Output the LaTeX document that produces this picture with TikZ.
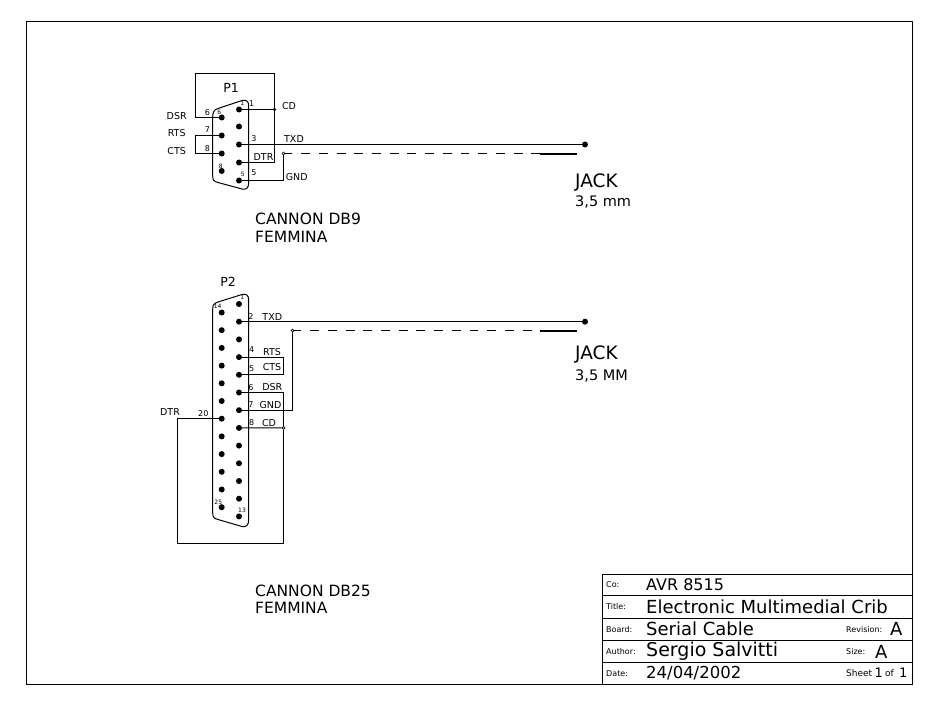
\documentclass[tikz,border=0pt]{standalone}
\usepackage{fontspec}
\setmainfont{DejaVu Sans}
\tikzset{
    wire/.style={line width=1pt},
    shieldwire/.style={line width=1pt, dash pattern=on 8.9pt off 8.8pt},
    ringwire/.style={line width=1.8pt},
    pinhole/.style={circle, fill=black, inner sep=0pt, minimum size=6pt},
    junction/.style={circle, draw, fill=white, line width=0.7pt, inner sep=0pt, minimum size=3pt},
    pinno/.style={inner sep=0pt, font=\fontsize{8}{9}\selectfont},
    innerno/.style={inner sep=0pt, font=\fontsize{6}{7}\selectfont},
    signal/.style={inner sep=0pt, font=\fontsize{9.5}{11}\selectfont},
    refdes/.style={inner sep=0pt, font=\fontsize{12.5}{14}\selectfont},
    note/.style={anchor=west, inner sep=0pt, font=\fontsize{15.5}{18}\selectfont},
    fieldname/.style={anchor=west, inner sep=0pt, font=\fontsize{8}{9}\selectfont},
    fieldbig/.style={anchor=west, inner sep=0pt, font=\fontsize{18}{20}\selectfont}
}
\begin{document}
\begin{tikzpicture}[x=1pt, y=-1pt]
    \useasboundingbox (0,0) rectangle (931,706);
    % sheet frame and title block
    \draw[wire] (26.5,21.5) rectangle (912.5,684.5);
    \draw[wire] (602.5,574.5) rectangle (912.5,684.5);
    \foreach \rowy in {595,618,640,662}
        \draw[wire] (602.5,\rowy.5) -- (912.5,\rowy.5);

    % DB9 shell
    \draw[wire] (212.7,176) -- (212.7,117) .. controls (212.7,112) and (214,110) .. (218,108.5)
        -- (242,100.5) .. controls (246,99.5) and (248.7,101) .. (248.7,106)
        -- (248.7,183) .. controls (248.7,188) and (246,190) .. (242,189)
        -- (218,182.5) .. controls (214,181.5) and (212.7,180) .. (212.7,176) -- cycle;
    \foreach \n/\py in {1/109.5,2/126.5,3/144.5,4/162.5,5/180.5}
        \node[pinhole] (a\n) at (239,\py) {};
    \foreach \n/\py in {6/117.5,7/135.5,8/153.5,9/171}
        \node[pinhole] (a\n) at (221.7,\py) {};

    % DB9 wiring
    \node[junction] (cdjoin) at (274.5,109.5) {};
    \node[junction] (gndjoin) at (283.5,153.5) {};
    \node[pinhole] (jack1) at (585,144.5) {};
    \coordinate (p1topleft) at (195.5,73.5);
    \coordinate (p1topright) at (274.5,73.5);
    \coordinate (rtsbend) at (195.5,135.5);
    \coordinate (ctsbend) at (195.5,153.5);
    \coordinate (dashend1) at (540,153.5);
    \coordinate (ringstart1) at (540,154);
    \coordinate (ring1) at (577,154);
    \draw[wire] (a6) -| (p1topleft) -- (p1topright) |- (a4);
    \draw[wire] (a1) -- (cdjoin);
    \draw[wire] (a7) -- (rtsbend) -- (ctsbend) -- (a8);
    \draw[wire] (a3) -- (jack1);
    \draw[wire] (a5) -| (gndjoin);
    \draw[shieldwire] (gndjoin.center) -- (dashend1);
    \draw[ringwire] (ringstart1) -- (ring1);

    % DB25 shell
    \draw[wire] (212.7,513) -- (212.7,309) .. controls (212.7,305) and (214,303.5) .. (218,302)
        -- (242,294.5) .. controls (246,293.5) and (248.7,295) .. (248.7,300)
        -- (248.7,520) .. controls (248.7,525) and (246,527.5) .. (242,526.5)
        -- (218,519.5) .. controls (214,518.5) and (212.7,517) .. (212.7,513) -- cycle;
    \foreach \n in {1,...,13}
        \node[pinhole] (b\n) at (239,{304+(\n-1)*17.7}) {};
    \foreach \n in {14,...,25}
        \node[pinhole] (b\n) at (221.7,{312.5+(\n-14)*17.7}) {};

    % DB25 wiring
    \node[junction] (cdjoinb) at (283.5,427.9) {};
    \node[junction] (gndjoinb) at (292.5,330.5) {};
    \node[pinhole] (jack2) at (585,321.7) {};
    \coordinate (ctsbox) at (283.5,366);
    \coordinate (dtrbottom) at (177.5,543.5);
    \coordinate (cdbottom) at (283.5,543.5);
    \coordinate (dashend2) at (540,330.5);
    \coordinate (ringstart2) at (540,331);
    \coordinate (ring2) at (577,331);
    \draw[wire] (b2) -- (jack2);
    \draw[wire] (b4) -| (ctsbox) |- (b5);
    \draw[wire] (b6) -| (cdjoinb);
    \draw[wire] (b8) -- (cdjoinb);
    \draw[wire] (b7) -| (gndjoinb);
    \draw[wire] (cdjoinb) -- (cdbottom) -- (dtrbottom) |- (b20);
    \draw[shieldwire] (gndjoinb.center) -- (dashend2);
    \draw[ringwire] (ringstart2) -- (ring2);

    % DB9 labels
    \node[refdes] (p1) at (231,88) {P1};
    \node[innerno] (in1) at (242.3,103.5) {1};
    \node[innerno] (in6) at (219.3,112.3) {6};
    \node[innerno] (in8) at (220.7,166.7) {8};
    \node[innerno] (in5) at (242.7,174) {5};
    \node[pinno] (no1) at (251.7,104) {1};
    \node[pinno] (no3) at (254,139) {3};
    \node[pinno] (no5) at (254,172.3) {5};
    \node[pinno] (no6) at (207.3,112.3) {6};
    \node[pinno] (no7) at (207.3,130) {7};
    \node[pinno] (no8) at (207.3,148.3) {8};
    \node[signal] (cd) at (289,106) {CD};
    \node[signal] (txd) at (294,139) {TXD};
    \node[signal] (dtr) at (263.5,157) {DTR};
    \node[signal] (gnd) at (296.7,177.3) {GND};
    \node[signal] (dsr) at (176.7,115.7) {DSR};
    \node[signal] (rts) at (176.7,132.7) {RTS};
    \node[signal] (cts) at (176.7,150.7) {CTS};
    \node[note] (db9) at (255,219) {CANNON DB9};
    \node[note] (fem9) at (255,237) {FEMMINA};
    \node[note, font=\fontsize{18.5}{20}\selectfont] (jacka) at (575,182) {JACK};
    \node[note, font=\fontsize{14.5}{16}\selectfont] (sizea) at (575,202) {3,5 mm};

    % DB25 labels
    \node[refdes] (p2) at (228,282.3) {P2};
    \node[innerno] (inb1) at (242.3,297.7) {1};
    \node[innerno] (inb14) at (217.7,306.7) {14};
    \node[innerno] (inb25) at (218.3,502.3) {25};
    \node[innerno] (inb13) at (242,510.3) {13};
    \node[pinno] (nob2) at (251,316.7) {2};
    \node[pinno] (nob4) at (251.7,349.3) {4};
    \node[pinno] (nob5) at (251.7,369) {5};
    \node[pinno] (nob6) at (251,387.3) {6};
    \node[pinno] (nob7) at (251,404.3) {7};
    \node[pinno] (nob8) at (251.7,422.7) {8};
    \node[pinno] (nob20) at (203.3,414) {20};
    \node[signal] (txdb) at (272.3,316.7) {TXD};
    \node[signal] (rtsb) at (272,351.7) {RTS};
    \node[signal] (ctsb) at (272,367.3) {CTS};
    \node[signal] (dsrb) at (272.3,387.3) {DSR};
    \node[signal] (gndb) at (270.5,405) {GND};
    \node[signal] (cdb) at (269,422.7) {CD};
    \node[signal] (dtrb) at (170,412.3) {DTR};
    \node[note] (db25) at (255,591) {CANNON DB25};
    \node[note] (fem25) at (255,608) {FEMMINA};
    \node[note, font=\fontsize{18.5}{20}\selectfont] (jackb) at (575,354) {JACK};
    \node[note, font=\fontsize{14.5}{16}\selectfont] (sizeb) at (575,376) {3,5 MM};

    % title block texts
    \node[fieldname] (colabel) at (606,585) {Co:};
    \node[fieldname] (titlelabel) at (606,607) {Title:};
    \node[fieldname] (boardlabel) at (606,629.5) {Board:};
    \node[fieldname] (authorlabel) at (606,651.5) {Author:};
    \node[fieldname] (datelabel) at (606,673.5) {Date:};
    \node[fieldbig, font=\fontsize{16}{18}\selectfont] (covalue) at (646,585) {AVR 8515};
    \node[fieldbig] (titlevalue) at (646,607) {Electronic Multimedial Crib};
    \node[fieldbig] (boardvalue) at (646,629) {Serial Cable};
    \node[fieldbig, font=\fontsize{19}{21}\selectfont] (authorvalue) at (646,651) {Sergio Salvitti};
    \node[fieldbig, font=\fontsize{16.5}{18}\selectfont] (datevalue) at (646,673) {24/04/2002};
    \node[fieldname] (revlabel) at (846,630) {Revision:};
    \node[fieldbig] (revvalue) at (890,629) {A};
    \node[fieldname] (sizelabel) at (846,652) {Size:};
    \node[fieldbig] (sizevalue) at (875,651.5) {A};
    \node[fieldname, font=\fontsize{9}{10}\selectfont] (sheetlabel) at (846,673.5) {Sheet};
    \node[fieldname, font=\fontsize{13}{14}\selectfont] (sheetno) at (874.5,673) {1};
    \node[fieldname, font=\fontsize{9}{10}\selectfont] (oflabel) at (885,673.5) {of};
    \node[fieldname, font=\fontsize{13}{14}\selectfont] (sheetall) at (899,673) {1};
\end{tikzpicture}
\end{document}
